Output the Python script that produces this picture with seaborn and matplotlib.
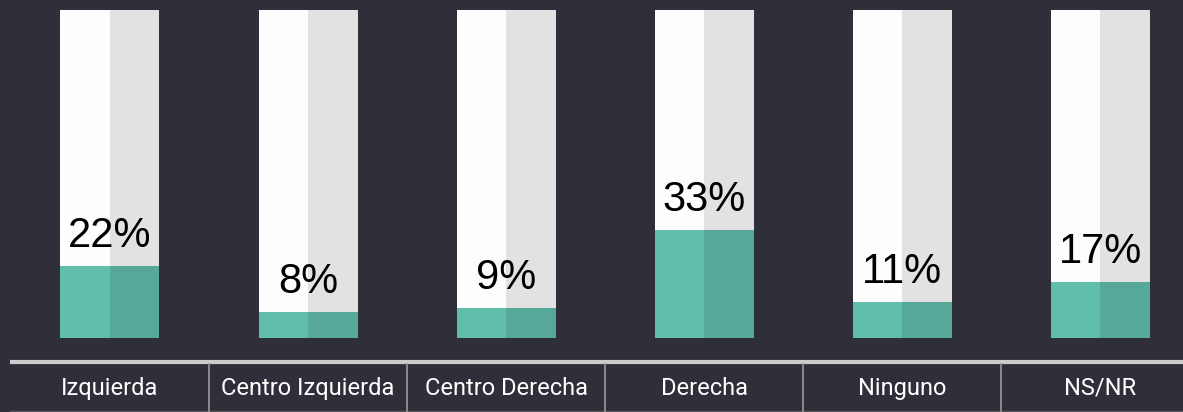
import pandas as pd
import matplotlib.pyplot as plt
import seaborn as sns

categorias = ['Izquierda', 'Centro Izquierda', 'Centro Derecha', 'Derecha', 'Ninguno', 'NS/NR']
porcentajes = [22, 8, 9, 33, 11, 17]

bg = '#2f2f39'
sns.set_theme(style='white')
plt.rcParams['font.family'] = ['Liberation Sans', 'DejaVu Sans']

df = pd.DataFrame({'cat': categorias, 'val': porcentajes})
halves = pd.concat([df.assign(mitad='a'), df.assign(mitad='b')], ignore_index=True)
halves['total'] = 100

fig = plt.figure(figsize=(11.83, 4.12), dpi=100, facecolor=bg)
ax = fig.add_axes([10 / 1183, 0, 1173 / 1183, 1])
ax.set_facecolor(bg)

# fondo de cada barra (100%) partido en dos mitades
sns.barplot(data=halves, x='cat', y='total', hue='mitad', order=categorias,
            palette=['#fdfdfd', '#e2e2e2'], width=0.5, gap=0, dodge=True,
            saturation=1, linewidth=0, legend=False, ax=ax)
# porcentaje
sns.barplot(data=halves, x='cat', y='val', hue='mitad', order=categorias,
            palette=['#5fbfab', '#56a898'], width=0.5, gap=0, dodge=True,
            saturation=1, linewidth=0, legend=False, ax=ax)

ax.set_xlim(-0.505, 5.419)
ax.set_ylim(-22.56, 103.05)

for i, v in enumerate(porcentajes):
    ax.text(i, v + 5.8, f'{v}%', ha='center', va='baseline', fontsize=30, color='black')

# fila tipo tabla con las categorias
ax.axhline(-7.32, color='#cdcdcd', lw=3)
ax.axhline(-22.3, color='#55555c', lw=1)
for k in range(1, len(categorias)):
    ax.plot([k - 0.5, k - 0.5], [-8, -22.56], color='#8a8a8a', lw=1.4)
for i, c in enumerate(categorias):
    ax.text(i, -15.3, c, ha='center', va='center', fontsize=17, color='white',
            family=['Roboto', 'DejaVu Sans'])

ax.set_xlabel('')
ax.set_ylabel('')
ax.set_xticks([])
ax.set_yticks([])
sns.despine(ax=ax, left=True, bottom=True)

fig.savefig('out.png', dpi=100, facecolor=bg)
